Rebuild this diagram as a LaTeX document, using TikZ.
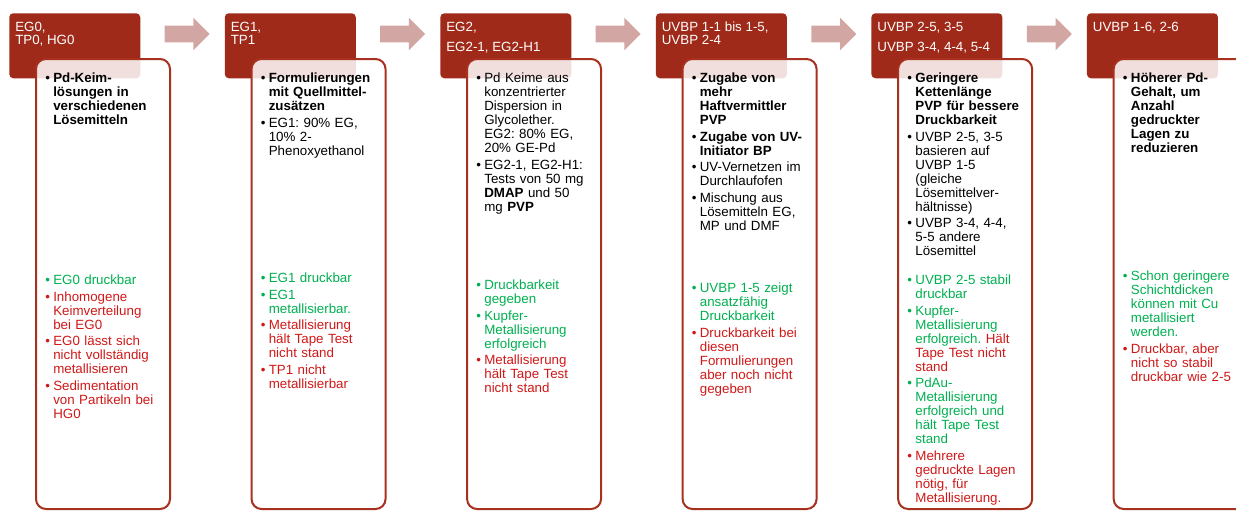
\documentclass[tikz,border=0pt]{standalone}
\usepackage{fontspec}
\setmainfont{Liberation Sans}
\usetikzlibrary{positioning, shapes.arrows}
\definecolor{headred}{HTML}{9F2A1A}
\definecolor{cardline}{HTML}{A8301F}
\definecolor{chevpink}{HTML}{D2A7A3}
\definecolor{good}{HTML}{00B050}
\definecolor{bad}{HTML}{D01818}
\newdimen\pxl \pxl=0.75pt % one pixel of the slide
% one bullet point, hanging indent after the first line
\newcommand{\itm}[2][black]{{\noindent\color{#1}\hangindent=8\pxl\hangafter=1\makebox[8\pxl][l]{\textbullet}#2\par}\vspace{2.5\pxl}}
\tikzset{
x=0.75pt, y=0.75pt, % coordinates count slide pixels
node distance=63pt, % gap between two header boxes
head/.style={rectangle, rounded corners=3pt, fill=headred, minimum width=98.25pt, minimum height=48.75pt, inner sep=0pt, anchor=north west}, % dark red title tab
headtext/.style={anchor=north west, inner sep=0pt, text=white, align=left, font=\fontsize{10}{10}\selectfont}, % title of a tab
card/.style={rectangle, rounded corners=7.5pt, draw=cardline, line width=1.5pt, fill=white, fill opacity=0.85, minimum width=100.5pt, minimum height=337.5pt, inner sep=0pt, anchor=north west}, % white box below the tab
itemtext/.style={anchor=north west, inner sep=0pt, text width=97.5pt, align=left, font=\frenchspacing\fontsize{10}{10.5}\selectfont}, % bullet lists
chevron/.style={single arrow, fill=chevpink, inner sep=0pt, text height=12pt, text depth=0pt, minimum height=33.75pt, minimum width=24pt, single arrow head extend=6pt}, % step arrow
}

\begin{document}
\begin{tikzpicture}
    \useasboundingbox (0,0) rectangle (1236,-511);
    \clip (0,0) rectangle (1236,-511);

    % title tabs
    \node[head] (h1) at (9,-13) {};
    \node[head, right=of h1] (h2) {};
    \node[head, right=of h2] (h3) {};
    \node[head, right=of h3] (h4) {};
    \node[head, right=of h4] (h5) {};
    \node[head, right=of h5] (h6) {};

    \node[headtext] (ht1) at ([shift={(6,-8.5)}]h1.north west) {EG0,\\TP0, HG0};
    \node[headtext] (ht2) at ([shift={(6,-8.5)}]h2.north west) {EG1,\\TP1};
    \node[headtext] (ht3) at ([shift={(6,-8.5)}]h3.north west) {EG2,\\[5pt]EG2-1, EG2-H1};
    \node[headtext] (ht4) at ([shift={(6,-8.5)}]h4.north west) {UVBP 1-1 bis 1-5,\\UVBP 2-4};
    \node[headtext] (ht5) at ([shift={(6,-8.5)}]h5.north west) {UVBP 2-5, 3-5\\[5pt]UVBP 3-4, 4-4, 5-4};
    \node[headtext] (ht6) at ([shift={(6,-8.5)}]h6.north west) {UVBP 1-6, 2-6};

    % arrows between the tabs
    \node[chevron] (a1) at ([shift={(42.5,-21)}]h1.north east) {};
    \node[chevron] (a2) at ([shift={(42.5,-21)}]h2.north east) {};
    \node[chevron] (a3) at ([shift={(42.5,-21)}]h3.north east) {};
    \node[chevron] (a4) at ([shift={(42.5,-21)}]h4.north east) {};
    \node[chevron] (a5) at ([shift={(42.5,-21)}]h5.north east) {};

    % white boxes
    \node[card] (c1) at ([shift={(26,-45)}]h1.north west) {};
    \node[card] (c2) at ([shift={(26,-45)}]h2.north west) {};
    \node[card] (c3) at ([shift={(26,-45)}]h3.north west) {};
    \node[card] (c4) at ([shift={(26,-45)}]h4.north west) {};
    \node[card] (c5) at ([shift={(26,-45)}]h5.north west) {};
    \node[card] (c6) at ([shift={(26,-45)}]h6.north west) {};

    % what was tried
    \node[itemtext] (t1) at ([shift={(10,-15)}]c1.north west) {%
        \itm{\textbf{Pd-Keim-\newline lösungen in\newline verschiedenen\newline Lösemitteln}}};
    \node[itemtext] (t2) at ([shift={(10,-15)}]c2.north west) {%
        \itm{\textbf{Formulierungen\newline mit Quellmittel-\newline zusätzen}}
        \itm{EG1: 90\% EG,\newline 10\% 2-\newline Phenoxyethanol}};
    \node[itemtext] (t3) at ([shift={(10,-15)}]c3.north west) {%
        \itm{Pd Keime aus\newline konzentrierter\newline Dispersion in\newline Glycolether.\newline EG2: 80\% EG,\newline 20\% GE-Pd}
        \itm{EG2-1, EG2-H1:\newline Tests von 50 mg\newline \textbf{DMAP} und 50\newline mg \textbf{PVP}}};
    \node[itemtext] (t4) at ([shift={(10,-15)}]c4.north west) {%
        \itm{\textbf{Zugabe von\newline mehr\newline Haftvermittler\newline PVP}}
        \itm{\textbf{Zugabe von UV-\newline Initiator BP}}
        \itm{UV-Vernetzen im\newline Durchlaufofen}
        \itm{Mischung aus\newline Lösemitteln EG,\newline MP und DMF}};
    \node[itemtext] (t5) at ([shift={(10,-15)}]c5.north west) {%
        \itm{\textbf{Geringere\newline Kettenlänge\newline PVP für bessere\newline Druckbarkeit}}
        \itm{UVBP 2-5, 3-5\newline basieren auf\newline UVBP 1-5\newline (gleiche\newline Lösemittelver-\newline hältnisse)}
        \itm{UVBP 3-4, 4-4,\newline 5-5 andere\newline Lösemittel}};
    \node[itemtext] (t6) at ([shift={(10,-15)}]c6.north west) {%
        \itm{\textbf{Höherer Pd-\newline Gehalt, um\newline Anzahl\newline gedruckter\newline Lagen zu\newline reduzieren}}};

    % results
    \node[itemtext] (r1) at ([shift={(10,-217)}]c1.north west) {%
        \itm[good]{EG0 druckbar}
        \itm[bad]{Inhomogene\newline Keimverteilung\newline bei EG0}
        \itm[bad]{EG0 lässt sich\newline nicht vollständig\newline metallisieren}
        \itm[bad]{Sedimentation\newline von Partikeln bei\newline HG0}};
    \node[itemtext] (r2) at ([shift={(10,-215)}]c2.north west) {%
        \itm[good]{EG1 druckbar}
        \itm[good]{EG1\newline metallisierbar.}
        \itm[bad]{Metallisierung\newline hält Tape Test\newline nicht stand}
        \itm[bad]{TP1 nicht\newline metallisierbar}};
    \node[itemtext] (r3) at ([shift={(10,-222)}]c3.north west) {%
        \itm[good]{Druckbarkeit\newline gegeben}
        \itm[good]{Kupfer-\newline Metallisierung\newline erfolgreich}
        \itm[bad]{Metallisierung\newline hält Tape Test\newline nicht stand}};
    \node[itemtext] (r4) at ([shift={(10,-225)}]c4.north west) {%
        \itm[good]{UVBP 1-5 zeigt\newline ansatzfähig\newline Druckbarkeit}
        \itm[bad]{Druckbarkeit bei\newline diesen\newline Formulierungen\newline aber noch nicht\newline gegeben}};
    \node[itemtext] (r5) at ([shift={(10,-217)}]c5.north west) {%
        \itm[good]{UVBP 2-5 stabil\newline druckbar}
        \itm[good]{Kupfer-\newline Metallisierung\newline erfolgreich. \textcolor{bad}{Hält\newline Tape Test nicht\newline stand}}
        \itm[good]{PdAu-\newline Metallisierung\newline erfolgreich und\newline hält Tape Test\newline stand}
        \itm[bad]{Mehrere\newline gedruckte Lagen\newline nötig, für\newline Metallisierung.}};
    \node[itemtext] (r6) at ([shift={(10,-213)}]c6.north west) {%
        \itm[good]{Schon geringere\newline Schichtdicken\newline können mit Cu\newline metallisiert\newline werden.}
        \itm[bad]{Druckbar, aber\newline nicht so stabil\newline druckbar wie 2-5}};
\end{tikzpicture}
\end{document}
